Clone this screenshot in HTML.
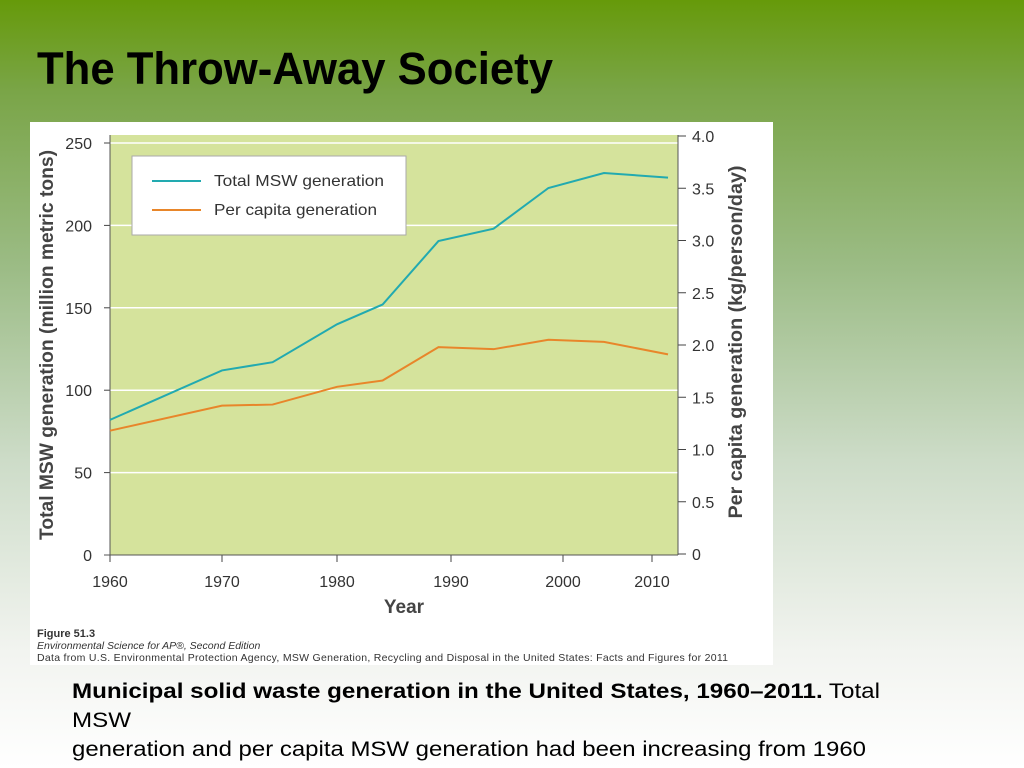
<!DOCTYPE html>
<html><head><meta charset="utf-8"><style>
html,body{margin:0;padding:0;width:1024px;height:768px;overflow:hidden}
body{background:linear-gradient(to bottom,#669a0a 0%,#7aa548 12%,#9cbc86 35%,#cddcc8 60%,#f2f4f0 85%,#ffffff 100%)}
svg{position:absolute;left:0;top:0}
text{font-family:"Liberation Sans",Arial,sans-serif}
</style></head><body>
<svg width="1024" height="768">
<text x="37" y="84" font-size="45" font-weight="bold" fill="#000" textLength="516" lengthAdjust="spacingAndGlyphs">The Throw-Away Society</text>
<rect x="30" y="122" width="743" height="543" fill="#fff"/>
<rect x="110" y="135" width="568" height="420" fill="#d5e39c"/>
<g id="grid"></g>
<g id="axes" font-size="16" fill="#333"></g>
<g id="series"></g>
<rect x="132" y="156" width="274" height="79" fill="#fff" stroke="#aaa" stroke-width="1"/>
<line x1="152" y1="181" x2="201" y2="181" stroke="#22aab0" stroke-width="2"/>
<text x="214" y="186" font-size="16" fill="#333" textLength="170" lengthAdjust="spacingAndGlyphs">Total MSW generation</text>
<line x1="152" y1="210" x2="201" y2="210" stroke="#e8862a" stroke-width="2"/>
<text x="214" y="215" font-size="16" fill="#333" textLength="163" lengthAdjust="spacingAndGlyphs">Per capita generation</text>
<text x="404" y="613" font-size="19" font-weight="bold" fill="#444" text-anchor="middle">Year</text>
<text transform="translate(53,345) rotate(-90)" font-size="19" font-weight="bold" fill="#444" text-anchor="middle" textLength="390" lengthAdjust="spacingAndGlyphs">Total MSW generation (million metric tons)</text>
<text transform="translate(742,342) rotate(-90)" font-size="19.5" font-weight="bold" fill="#444" text-anchor="middle" textLength="353" lengthAdjust="spacingAndGlyphs">Per capita generation (kg/person/day)</text>
<text x="37" y="637" font-size="11" font-weight="bold" fill="#333">Figure 51.3</text>
<text x="37" y="649" font-size="10.5" font-style="italic" fill="#333">Environmental Science for AP®, Second Edition</text>
<text x="37" y="661" font-size="10.5" fill="#333" textLength="691">Data from U.S. Environmental Protection Agency, MSW Generation, Recycling and Disposal in the United States: Facts and Figures for 2011</text>
<text x="72" y="698" font-size="21" fill="#000" textLength="808" lengthAdjust="spacingAndGlyphs"><tspan font-weight="bold">Municipal solid waste generation in the United States, 1960–2011.</tspan> Total</text>
<text x="72" y="727" font-size="21" fill="#000" textLength="59" lengthAdjust="spacingAndGlyphs">MSW</text>
<text x="72" y="756" font-size="21" fill="#000" textLength="794" lengthAdjust="spacingAndGlyphs">generation and per capita MSW generation had been increasing from 1960</text>
</svg>
<script>
const years=[1960,1970,1974.4,1980,1984,1988.9,1993.8,1998.7,2004.6,2011.8];
const totalMSW=[82,112,117,140,152,190.5,198,222.7,231.8,229];
const perCapita=[1.18,1.42,1.43,1.6,1.66,1.98,1.96,2.05,2.03,1.91];
const xTicks=[1960,1970,1980,1990,2000,2010];
const leftTicks=[0,50,100,150,200,250];
const rightTicks=[0,0.5,1.0,1.5,2.0,2.5,3.0,3.5,4.0];
const tickPx=[110,222,337,451,563,652];
function xs(v){
 for(let i=0;i<xTicks.length-1;i++){
  if(v<=xTicks[i+1]||i===xTicks.length-2){
   return tickPx[i]+(v-xTicks[i])*(tickPx[i+1]-tickPx[i])/(xTicks[i+1]-xTicks[i]);
  }
 }
}
function yl(v){return 555-v*1.648;}
function yr(v){return 554-v*104.5;}
const NS='http://www.w3.org/2000/svg';
function mk(tag,attrs,parent){const e=document.createElementNS(NS,tag);for(const k in attrs)e.setAttribute(k,attrs[k]);parent.appendChild(e);return e;}
const grid=document.getElementById('grid'),axes=document.getElementById('axes'),series=document.getElementById('series');
leftTicks.forEach(t=>{
 if(t>0){const g=mk('line',{x1:110,x2:678,y1:yl(t),y2:yl(t),stroke:'#fff','stroke-width':1.5},grid);
 
 }
 const tk=mk('line',{x1:104,x2:110,y1:yl(t),y2:yl(t),stroke:'#444'},axes);
 
 
 const tx=mk('text',{x:92,y:yl(t)+6,'text-anchor':'end'},axes);tx.textContent=t;
 
 
});
rightTicks.forEach(t=>{
 const tk=mk('line',{x1:678,x2:686,y1:yr(t),y2:yr(t),stroke:'#444'},axes);
 
 
 const tx=mk('text',{x:692,y:yr(t)+6},axes);tx.textContent=t===0?'0':t.toFixed(1);
 
 
});
xTicks.forEach(t=>{
 const tk=mk('line',{x1:xs(t),x2:xs(t),y1:555,y2:562,stroke:'#444'},axes);
 
 
 const tx=mk('text',{x:xs(t),y:587,'text-anchor':'middle'},axes);tx.textContent=t;
 
 
});
const la=mk('line',{x1:110,x2:110,y1:135,y2:555,stroke:'#555'},axes);


const ba=mk('line',{x1:104,x2:678,y1:555,y2:555,stroke:'#555'},axes);


const ra=mk('line',{x1:678,x2:678,y1:135,y2:555,stroke:'#555'},axes);


const p1=mk('polyline',{points:years.map((y,i)=>xs(y)+','+yl(totalMSW[i])).join(' '),fill:'none',stroke:'#22aab0','stroke-width':2},series);


const p2=mk('polyline',{points:years.map((y,i)=>xs(y)+','+yr(perCapita[i])).join(' '),fill:'none',stroke:'#e8862a','stroke-width':2},series);


</script>
</body></html>
